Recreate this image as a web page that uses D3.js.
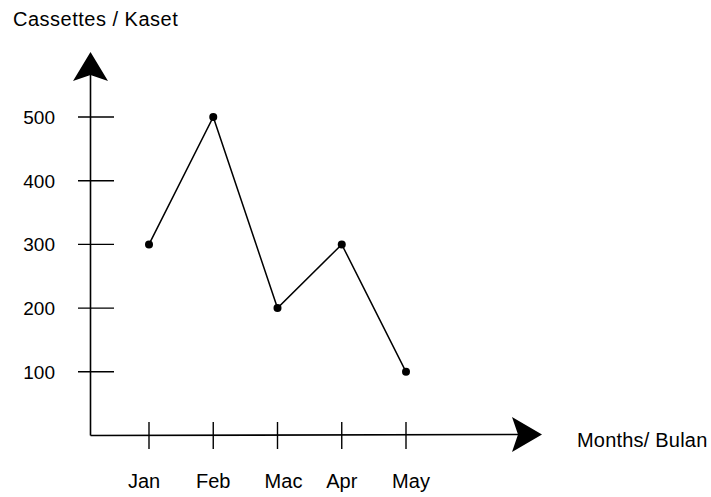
<!DOCTYPE html>
<html>
<head>
<meta charset="utf-8">
<script src="https://cdn.jsdelivr.net/npm/d3@7"></script>
<style>
  body { margin: 0; background: #fff; }
  text { font-family: 'Liberation Sans', Arial, sans-serif; fill: #000; }
</style>
</head>
<body>
<script>
var months = ['Jan', 'Feb', 'Mac', 'Apr', 'May'];
var cassettes = [300, 500, 200, 300, 100];
var yTicks = [100, 200, 300, 400, 500];

// labels in the original are not exactly centred under their ticks
var labelNudge = { Jan: -5, Feb: 0, Mac: 6, Apr: 0, May: 5 };

var svg = d3.select('body').append('svg').attr('width', 711).attr('height', 497);

var x0 = 90.5, y0 = 435.5;
var xScale = d3.scalePoint().domain(months).range([149, 406]);
var yScale = d3.scaleLinear().domain([0, 500]).range([y0, 117]);

var data = months.map(function (m, i) {
  return { month: m, value: cassettes[i] };
});

// axes
svg.append('line')
  .attr('x1', x0).attr('y1', y0).attr('x2', x0).attr('y2', 70)
  .attr('stroke', '#000').attr('stroke-width', 1.6);
svg.append('line')
  .attr('x1', x0).attr('y1', y0).attr('x2', 520).attr('y2', 434.5)
  .attr('stroke', '#000').attr('stroke-width', 1.6);

// arrow heads
svg.append('path')
  .attr('d', 'M' + x0 + ',52 L108,81 L' + x0 + ',75 L73,81 Z')
  .attr('fill', '#000');
svg.append('path')
  .attr('d', 'M542,434.5 L512,417 L518,434.5 L512,452 Z')
  .attr('fill', '#000');

// y ticks
svg.selectAll('.ytick')
  .data(yTicks)
  .enter()
  .append('line')
  .attr('x1', 78).attr('x2', 114)
  .attr('y1', function (d) { return yScale(d); })
  .attr('y2', function (d) { return yScale(d); })
  .attr('stroke', '#000').attr('stroke-width', 1.4);

svg.selectAll('.ylab')
  .data(yTicks)
  .enter()
  .append('text')
  .attr('x', 55)
  .attr('y', function (d) { return yScale(d) + 7; })
  .attr('text-anchor', 'end')
  .attr('font-size', '19px')
  .text(function (d) { return d; });

// x ticks
svg.selectAll('.xtick')
  .data(months)
  .enter()
  .append('line')
  .attr('x1', function (d) { return xScale(d); })
  .attr('x2', function (d) { return xScale(d); })
  .attr('y1', 422).attr('y2', 449)
  .attr('stroke', '#000').attr('stroke-width', 1.4);

svg.selectAll('.xlab')
  .data(months)
  .enter()
  .append('text')
  .attr('x', function (d) { return xScale(d) + labelNudge[d]; })
  .attr('y', 488)
  .attr('text-anchor', 'middle')
  .attr('font-size', '20px')
  .text(function (d) { return d; });

// line + points
var line = d3.line()
  .x(function (d) { return xScale(d.month); })
  .y(function (d) { return yScale(d.value); });

svg.append('path')
  .datum(data)
  .attr('d', line)
  .attr('fill', 'none')
  .attr('stroke', '#000')
  .attr('stroke-width', 1.5);

svg.selectAll('.dot')
  .data(data)
  .enter()
  .append('circle')
  .attr('cx', function (d) { return xScale(d.month); })
  .attr('cy', function (d) { return yScale(d.value); })
  .attr('r', 4)
  .attr('fill', '#000');

// titles
svg.append('text')
  .attr('x', 13).attr('y', 26)
  .attr('font-size', '20px')
  .attr('letter-spacing', '0.5px')
  .text('Cassettes / Kaset');

svg.append('text')
  .attr('x', 577).attr('y', 447)
  .attr('font-size', '20px')
  .attr('letter-spacing', '0.2px')
  .text('Months/ Bulan');
</script>
</body>
</html>
